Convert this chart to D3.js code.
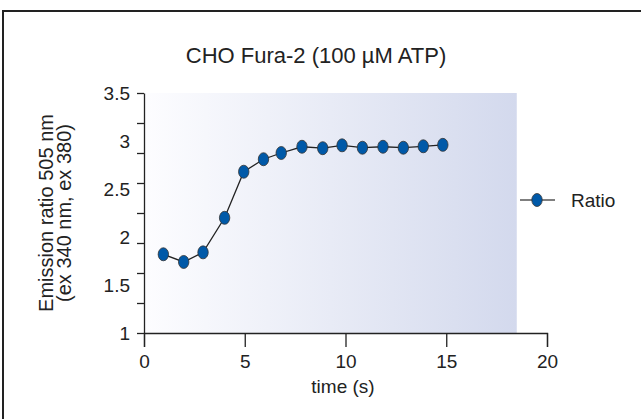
<!DOCTYPE html>
<html>
<head>
<meta charset="utf-8">
<script src="https://cdn.jsdelivr.net/npm/d3@7"></script>
<style>
  body { margin: 0; background: #fff; }
  svg { display: block; font-family: "Liberation Sans", Arial, sans-serif; }
</style>
</head>
<body>
<div id="chart"></div>
<script>
// values
const time_s = [0.96, 1.97, 2.93, 4.0, 4.95, 5.93, 6.81, 7.84, 8.87, 9.83, 10.84, 11.86, 12.87, 13.86, 14.83];
const ratio = [1.82, 1.74, 1.84, 2.2, 2.68, 2.81, 2.875, 2.94, 2.925, 2.955, 2.93, 2.94, 2.93, 2.945, 2.96];
const x_ticks = [0, 5, 10, 15, 20];
const y_labels = [1, 1.5, 2, 2.5, 3, 3.5];
// the tick marks on the y axis do not line up with the labels (8 even steps)
const y_marks = [1, 1.3125, 1.625, 1.9375, 2.25, 2.5625, 2.875, 3.1875, 3.5];
const shade_end = 18.5;

const width = 641, height = 419;
const m_left = 144, m_right = 547, m_top = 93, m_bottom = 333;

const svg = d3.select("#chart").append("svg")
    .attr("width", width)
    .attr("height", height);

const x = d3.scaleLinear().domain([0, 20]).range([m_left, m_right]);
const y = d3.scaleLinear().domain([1, 3.5]).range([m_bottom, m_top]);

// frame
svg.append("rect")
    .attr("x", 3).attr("y", 11)
    .attr("width", 660).attr("height", 440)
    .attr("fill", "none")
    .attr("stroke", "#222")
    .attr("stroke-width", 2);

const grad = svg.append("defs").append("linearGradient")
    .attr("id", "bg")
    .attr("x1", "0%").attr("x2", "100%");
grad.append("stop").attr("offset", "0%").attr("stop-color", "#fdfdff");
grad.append("stop").attr("offset", "100%").attr("stop-color", "#d3d9ed");

svg.append("rect")
    .attr("x", x(0))
    .attr("y", y(3.5))
    .attr("width", x(shade_end) - x(0))
    .attr("height", y(1) - y(3.5))
    .attr("fill", "url(#bg)");

svg.append("text")
    .attr("x", 316).attr("y", 63)
    .attr("text-anchor", "middle")
    .attr("font-size", 22)
    .attr("fill", "#222")
    .text("CHO Fura-2 (100 \u00b5M ATP)");

// x axis
const xAxis = svg.append("g")
    .attr("transform", `translate(0,${m_bottom})`)
    .call(d3.axisBottom(x).tickValues(x_ticks).tickSize(14).tickPadding(8));
xAxis.select(".domain").attr("stroke", "#222").attr("stroke-width", 1.3);
xAxis.selectAll(".tick line").attr("stroke", "#222").attr("stroke-width", 1.3);
xAxis.selectAll("text").attr("font-size", 19).attr("fill", "#222").attr("font-family", "Liberation Sans, Arial");

// y axis: marks
const yMarks = svg.append("g")
    .attr("transform", `translate(${m_left},0)`)
    .call(d3.axisLeft(y).tickValues(y_marks).tickSize(7).tickSizeOuter(0).tickFormat(""));
yMarks.select(".domain").attr("stroke", "#222").attr("stroke-width", 1.3);
yMarks.selectAll(".tick line").attr("stroke", "#222").attr("stroke-width", 1.3);

// y axis: labels
const yLab = svg.append("g")
    .attr("transform", `translate(${m_left},0)`)
    .call(d3.axisLeft(y).tickValues(y_labels).tickFormat(d3.format("")).tickSize(0).tickPadding(14));
yLab.select(".domain").remove();
yLab.selectAll("text").attr("font-size", 19).attr("fill", "#222").attr("font-family", "Liberation Sans, Arial");

svg.append("text")
    .attr("x", 343).attr("y", 393)
    .attr("text-anchor", "middle")
    .attr("font-size", 19)
    .attr("fill", "#222")
    .text("time (s)");

const ylab = svg.append("text")
    .attr("transform", "translate(53,213) rotate(-90)")
    .attr("text-anchor", "middle")
    .attr("font-size", 20)
    .attr("fill", "#222");
ylab.append("tspan").attr("x", 0).attr("dy", 0).text("Emission ratio 505 nm");
ylab.append("tspan").attr("x", 0).attr("dy", 18).text("(ex 340 nm, ex 380)");

const data = time_s.map((t, i) => ({t: t, v: ratio[i]}));

svg.append("path")
    .datum(data)
    .attr("fill", "none")
    .attr("stroke", "#222")
    .attr("stroke-width", 1.3)
    .attr("d", d3.line().x(d => x(d.t)).y(d => y(d.v)));

svg.selectAll(".pt")
    .data(data)
    .join("ellipse")
    .attr("class", "pt")
    .attr("cx", d => x(d.t))
    .attr("cy", d => y(d.v))
    .attr("rx", 5.2)
    .attr("ry", 6.5)
    .attr("fill", "#0059a8")
    .attr("stroke", "#333")
    .attr("stroke-width", 0.8);

// legend
const lg = svg.append("g").attr("transform", "translate(520,200)");
lg.append("line").attr("x1", 0).attr("x2", 35).attr("stroke", "#555").attr("stroke-width", 1.3);
lg.append("ellipse").attr("cx", 17).attr("cy", 0).attr("rx", 5.2).attr("ry", 6.5)
    .attr("fill", "#0059a8").attr("stroke", "#333").attr("stroke-width", 0.8);
lg.append("text").attr("x", 51).attr("y", 7).attr("font-size", 19).attr("fill", "#222").text("Ratio");
</script>
</body>
</html>
